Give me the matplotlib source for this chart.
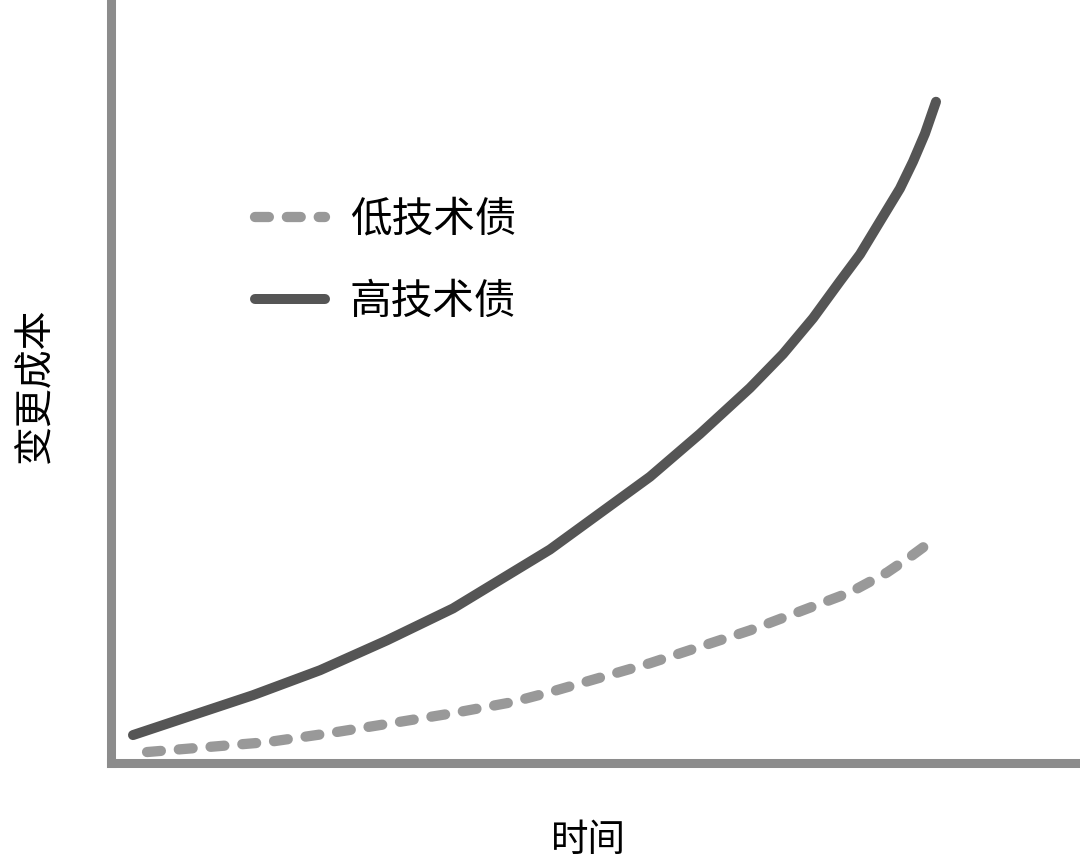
import matplotlib
matplotlib.use("Agg")
import matplotlib.pyplot as plt

plt.rcParams['font.family'] = ['Noto Sans CJK SC', 'DejaVu Sans']

# values (time 0..10, cost 0..10)
high_t = [0.227, 0.784, 1.465, 2.157, 2.848, 3.529, 4.530, 5.562, 6.078, 6.594,
          6.935, 7.245, 7.523, 7.730, 7.936, 8.142, 8.277, 8.400, 8.514]
high_c = [0.367, 0.603, 0.891, 1.219, 1.612, 2.031, 2.805, 3.761, 4.325, 4.928,
          5.374, 5.845, 6.330, 6.684, 7.117, 7.549, 7.903, 8.270, 8.689]
low_t = [0.372, 1.001, 1.620, 2.260, 2.900, 3.529, 4.138, 4.530, 5.562, 6.594,
         7.626, 8.008, 8.266, 8.504]
low_c = [0.144, 0.210, 0.275, 0.393, 0.524, 0.655, 0.799, 0.931, 1.311, 1.743,
         2.241, 2.503, 2.726, 2.949]
labels = ['低技术债', '高技术债']
x_title = '时间'
y_title = '变更成本'

fig = plt.figure(figsize=(10.8, 8.67), dpi=100)
ax = fig.add_axes([111 / 1080, 104 / 867, 1 - 111 / 1080, 1 - 104 / 867 - 2 / 867])

ax.plot(low_t, low_c, color='#999999', lw=7.4, dashes=(1.35, 1.75),
        dash_capstyle='round', dash_joinstyle='round', label=labels[0])
ax.plot(high_t, high_c, color='#555555', lw=7.2,
        solid_capstyle='round', solid_joinstyle='round', label=labels[1])

ax.set_xlim(0, 10)
ax.set_ylim(0, 10)
ax.set_xticks([])
ax.set_yticks([])
for side in ['top', 'right']:
    ax.spines[side].set_visible(False)
for side in ['left', 'bottom']:
    ax.spines[side].set_color('#8c8c8c')
    ax.spines[side].set_linewidth(6.5)

ax.legend(loc='upper left', bbox_to_anchor=(0.1486, 0.741), frameon=False,
          borderaxespad=0, borderpad=0,
          fontsize=30, handlelength=1.68, handletextpad=0.6, labelspacing=1.0)

fig.text(588 / 1080, 1 - 840 / 867, x_title, ha='center', va='center', fontsize=27)
fig.text(35 / 1080, 1 - 385 / 867, y_title, ha='center', va='center', fontsize=28, rotation=90)

fig.savefig('out.png', dpi=100, facecolor='white')
